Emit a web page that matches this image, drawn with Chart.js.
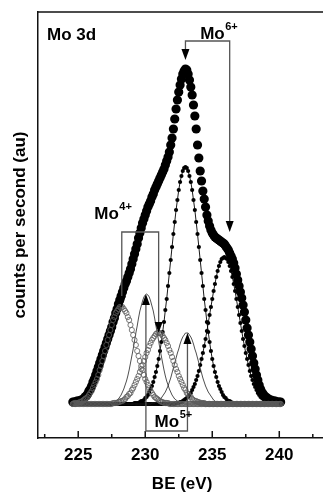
<!DOCTYPE html>
<html>
<head>
<meta charset="utf-8">
<title>Mo 3d XPS</title>
<script src="https://cdn.jsdelivr.net/npm/chart.js@4.4.1/dist/chart.umd.min.js"></script>
<style>
  html, body { margin: 0; padding: 0; background: #fff; overflow: hidden; }
  #wrap { width: 323px; height: 493px; overflow: hidden; }
</style>
</head>
<body>
<div id="wrap"><canvas id="xps" width="331" height="493"></canvas></div>
<script>
// binding energy grid (eV)
const energy = [
  224.6, 224.7, 224.8, 224.9,
  225.0, 225.1, 225.2, 225.3, 225.4, 225.5, 225.6, 225.7, 225.8, 225.9,
  226.0, 226.1, 226.2, 226.3, 226.4, 226.5, 226.6, 226.7, 226.8, 226.9,
  227.0, 227.1, 227.2, 227.3, 227.4, 227.5, 227.6, 227.7, 227.8, 227.9,
  228.0, 228.1, 228.2, 228.3, 228.4, 228.5, 228.6, 228.7, 228.8, 228.9,
  229.0, 229.1, 229.2, 229.3, 229.4, 229.5, 229.6, 229.7, 229.8, 229.9,
  230.0, 230.1, 230.2, 230.3, 230.4, 230.5, 230.6, 230.7, 230.8, 230.9,
  231.0, 231.1, 231.2, 231.3, 231.4, 231.5, 231.6, 231.7, 231.8, 231.9,
  232.0, 232.1, 232.2, 232.3, 232.4, 232.5, 232.6, 232.7, 232.8, 232.9,
  233.0, 233.1, 233.2, 233.3, 233.4, 233.5, 233.6, 233.7, 233.8, 233.9,
  234.0, 234.1, 234.2, 234.3, 234.4, 234.5, 234.6, 234.7, 234.8, 234.9,
  235.0, 235.1, 235.2, 235.3, 235.4, 235.5, 235.6, 235.7, 235.8, 235.9,
  236.0, 236.1, 236.2, 236.3, 236.4, 236.5, 236.6, 236.7, 236.8, 236.9,
  237.0, 237.1, 237.2, 237.3, 237.4, 237.5, 237.6, 237.7, 237.8, 237.9,
  238.0, 238.1, 238.2, 238.3, 238.4, 238.5, 238.6, 238.7, 238.8, 238.9,
  239.0, 239.1, 239.2, 239.3, 239.4, 239.5, 239.6, 239.7, 239.8, 239.9,
  240.0, 240.1
];

// measured envelope
const measured = [
  2, 2, 2, 3,
  3, 3, 4, 4, 5, 7, 8, 10, 13, 15,
  18, 22, 25, 29, 33, 37, 41, 45, 49, 53,
  57, 61, 65, 69, 73, 77, 82, 86, 91, 95,
  100, 104, 108, 112, 116, 120, 123, 127, 131, 135,
  140, 145, 150, 155, 160, 166, 171, 176, 181, 185,
  189, 193, 197, 200, 203, 207, 210, 214, 217, 220,
  223, 226, 229, 232, 235, 239, 243, 247, 252, 259,
  266, 275, 285, 295, 304, 312, 319, 325, 330, 333,
  335, 334, 330, 324, 317, 309, 299, 288, 275, 259,
  246, 233, 223, 213, 205, 197, 189, 183, 178, 174,
  171, 169, 167, 166, 165, 164, 163, 162, 161, 160,
  158, 156, 154, 151, 148, 145, 141, 136, 130, 124,
  118, 112, 106, 99, 92, 84, 76, 69, 62, 55,
  48, 41, 35, 29, 24, 19, 15, 12, 10, 8,
  7, 6, 5, 4, 4, 3, 3, 3, 2, 2,
  2, 2
];

// Mo6+ doublet
const mo6a = [
  0, 0, 0, 0,
  0, 0, 0, 0, 0, 0, 0, 0, 0, 0,
  0, 0, 0, 0, 0, 0, 0, 0, 0, 0,
  0, 0, 0, 0, 0, 0, 0, 0, 0, 0,
  0, 0, 0, 0, 0, 0, 0, 0, 0, 0,
  0, 0, 1, 1, 1, 1, 2, 3, 3, 4,
  6, 7, 9, 12, 15, 18, 22, 27, 32, 38,
  45, 53, 62, 72, 82, 94, 105, 118, 131, 144,
  157, 170, 182, 194, 204, 214, 222, 228, 233, 236,
  237, 236, 233, 228, 222, 214, 204, 194, 182, 170,
  157, 144, 131, 118, 105, 94, 82, 72, 62, 53,
  45, 38, 32, 27, 22, 18, 15, 12, 9, 7,
  6, 4, 3, 3, 2, 1, 1, 1, 1, 0,
  0, 0, 0, 0, 0, 0, 0, 0, 0, 0,
  0, 0, 0, 0, 0, 0, 0, 0, 0, 0,
  0, 0, 0, 0, 0, 0, 0, 0, 0, 0,
  0, 0
];
const mo6b = [
  0, 0, 0, 0,
  0, 0, 0, 0, 0, 0, 0, 0, 0, 0,
  0, 0, 0, 0, 0, 0, 0, 0, 0, 0,
  0, 0, 0, 0, 0, 0, 0, 0, 0, 0,
  0, 0, 0, 0, 0, 0, 0, 0, 0, 0,
  0, 0, 0, 0, 0, 0, 0, 0, 0, 0,
  0, 0, 0, 0, 0, 0, 0, 0, 0, 0,
  0, 0, 0, 0, 0, 0, 0, 0, 0, 0,
  0, 0, 0, 1, 1, 1, 2, 2, 3, 4,
  5, 6, 7, 9, 11, 14, 17, 20, 24, 28,
  33, 39, 45, 51, 58, 65, 73, 81, 89, 97,
  105, 113, 120, 127, 133, 138, 142, 145, 146, 147,
  146, 145, 142, 138, 133, 127, 120, 113, 105, 97,
  89, 81, 73, 65, 58, 51, 45, 39, 33, 28,
  24, 20, 17, 14, 11, 9, 7, 6, 5, 4,
  3, 2, 2, 1, 1, 1, 0, 0, 0, 0,
  0, 0
];

// Mo4+ doublet
const mo4a = [
  0, 1, 1, 1,
  1, 2, 2, 3, 4, 5, 6, 7, 9, 11,
  13, 16, 19, 22, 25, 29, 34, 38, 43, 48,
  53, 59, 64, 69, 74, 79, 84, 87, 91, 93,
  95, 97, 97, 97, 95, 93, 91, 87, 84, 79,
  74, 69, 64, 59, 53, 48, 43, 38, 34, 29,
  25, 22, 19, 16, 13, 11, 9, 7, 6, 5,
  4, 3, 2, 2, 1, 1, 1, 1, 0, 0,
  0, 0, 0, 0, 0, 0, 0, 0, 0, 0,
  0, 0, 0, 0, 0, 0, 0, 0, 0, 0,
  0, 0, 0, 0, 0, 0, 0, 0, 0, 0,
  0, 0, 0, 0, 0, 0, 0, 0, 0, 0,
  0, 0, 0, 0, 0, 0, 0, 0, 0, 0,
  0, 0, 0, 0, 0, 0, 0, 0, 0, 0,
  0, 0, 0, 0, 0, 0, 0, 0, 0, 0,
  0, 0, 0, 0, 0, 0, 0, 0, 0, 0,
  0, 0
];
const mo4b = [
  0, 0, 0, 0,
  0, 0, 0, 0, 0, 0, 0, 0, 0, 0,
  0, 0, 0, 0, 0, 0, 0, 0, 0, 0,
  0, 0, 0, 0, 0, 0, 1, 1, 1, 1,
  2, 2, 3, 3, 4, 5, 7, 8, 10, 11,
  14, 16, 19, 22, 25, 28, 32, 35, 39, 43,
  47, 51, 54, 58, 61, 64, 66, 68, 70, 71,
  71, 71, 70, 68, 66, 64, 61, 58, 54, 51,
  47, 43, 39, 35, 32, 28, 25, 22, 19, 16,
  14, 11, 10, 8, 7, 5, 4, 3, 3, 2,
  2, 1, 1, 1, 1, 0, 0, 0, 0, 0,
  0, 0, 0, 0, 0, 0, 0, 0, 0, 0,
  0, 0, 0, 0, 0, 0, 0, 0, 0, 0,
  0, 0, 0, 0, 0, 0, 0, 0, 0, 0,
  0, 0, 0, 0, 0, 0, 0, 0, 0, 0,
  0, 0, 0, 0, 0, 0, 0, 0, 0, 0,
  0, 0
];

// Mo5+ doublet
const mo5a = [
  0, 0, 0, 0,
  0, 0, 0, 0, 0, 0, 0, 0, 0, 0,
  0, 0, 0, 0, 0, 0, 0, 0, 0, 0,
  0, 0, 0, 0, 1, 1, 1, 2, 3, 4,
  5, 7, 9, 12, 15, 19, 23, 28, 34, 41,
  48, 55, 63, 71, 78, 86, 93, 98, 103, 107,
  109, 110, 109, 107, 103, 98, 93, 86, 78, 71,
  63, 55, 48, 41, 34, 28, 23, 19, 15, 12,
  9, 7, 5, 4, 3, 2, 1, 1, 1, 0,
  0, 0, 0, 0, 0, 0, 0, 0, 0, 0,
  0, 0, 0, 0, 0, 0, 0, 0, 0, 0,
  0, 0, 0, 0, 0, 0, 0, 0, 0, 0,
  0, 0, 0, 0, 0, 0, 0, 0, 0, 0,
  0, 0, 0, 0, 0, 0, 0, 0, 0, 0,
  0, 0, 0, 0, 0, 0, 0, 0, 0, 0,
  0, 0, 0, 0, 0, 0, 0, 0, 0, 0,
  0, 0
];
const mo5b = [
  0, 0, 0, 0,
  0, 0, 0, 0, 0, 0, 0, 0, 0, 0,
  0, 0, 0, 0, 0, 0, 0, 0, 0, 0,
  0, 0, 0, 0, 0, 0, 0, 0, 0, 0,
  0, 0, 0, 0, 0, 0, 0, 0, 0, 0,
  0, 0, 0, 0, 0, 0, 0, 0, 0, 0,
  0, 0, 0, 0, 0, 1, 1, 1, 2, 2,
  3, 4, 6, 8, 10, 12, 15, 18, 22, 26,
  31, 36, 41, 46, 51, 55, 60, 64, 67, 69,
  71, 71, 71, 69, 67, 64, 60, 55, 51, 46,
  41, 36, 31, 26, 22, 18, 15, 12, 10, 8,
  6, 4, 3, 2, 2, 1, 1, 1, 0, 0,
  0, 0, 0, 0, 0, 0, 0, 0, 0, 0,
  0, 0, 0, 0, 0, 0, 0, 0, 0, 0,
  0, 0, 0, 0, 0, 0, 0, 0, 0, 0,
  0, 0, 0, 0, 0, 0, 0, 0, 0, 0,
  0, 0
];

const majorTicks = [225, 230, 235, 240];
const minorTicks = [222.5, 227.5, 232.5, 237.5, 242.5];

// oxidation-state markers: arrow x (eV), arrow tips and bar level (counts)
const markers = [
  { base: 'Mo', sup: '6+', at: [233.0, 236.3], tips: [344, 172], bar: 363, text: [234.1, 365] },
  { base: 'Mo', sup: '4+', at: [228.25, 231.0], tips: [97, 71], bar: 172, text: [226.2, 185.5] },
  { base: 'Mo', sup: '5+', at: [230.05, 233.15], tips: [110, 71], bar: -27, text: [230.7, -23] }
];

const FONT = "'Liberation Sans', Arial, Helvetica, sans-serif";
Chart.defaults.font.family = FONT;
Chart.defaults.color = '#000';

const pts = arr => energy.map((e, i) => ({ x: e, y: arr[i] }));

function supLabel(ctx, x, y, base, sup) {
  ctx.font = 'bold 17px ' + FONT;
  ctx.fillText(base, x, y);
  const w = ctx.measureText(base).width;
  ctx.font = 'bold 11px ' + FONT;
  ctx.fillText(sup, x + w + 0.5, y - 9);
}

const decor = {
  id: 'decor',
  afterDatasetsDraw(chart) {
    const { ctx, chartArea: a, scales: { x, y } } = chart;
    ctx.save();

    // top frame line
    ctx.strokeStyle = '#111';
    ctx.lineWidth = 1.5;
    ctx.beginPath();
    ctx.moveTo(a.left, a.top);
    ctx.lineTo(a.right, a.top);
    ctx.stroke();

    // tick marks point into the plot
    ctx.beginPath();
    majorTicks.forEach(v => {
      const px = x.getPixelForValue(v);
      ctx.moveTo(px, a.bottom);
      ctx.lineTo(px, a.bottom - 7);
    });
    minorTicks.forEach(v => {
      const px = x.getPixelForValue(v);
      ctx.moveTo(px, a.bottom);
      ctx.lineTo(px, a.bottom - 4);
    });
    ctx.stroke();

    ctx.fillStyle = '#000';
    ctx.textAlign = 'left';
    ctx.textBaseline = 'alphabetic';
    ctx.font = 'bold 17px ' + FONT;
    ctx.fillText('Mo 3d', a.left + 9, a.top + 27.5);

    // brackets with arrows
    markers.forEach(m => {
      const X = m.at.map(v => x.getPixelForValue(v));
      const T = m.tips.map(v => y.getPixelForValue(v));
      const Y0 = y.getPixelForValue(m.bar);
      const dir = Y0 < T[0] ? 1 : -1;
      const head = 11;
      ctx.strokeStyle = '#555';
      ctx.lineWidth = 1.3;
      ctx.beginPath();
      ctx.moveTo(X[0], T[0] - dir * head);
      ctx.lineTo(X[0], Y0);
      ctx.lineTo(X[1], Y0);
      ctx.lineTo(X[1], T[1] - dir * head);
      ctx.stroke();
      ctx.fillStyle = '#000';
      X.forEach((px, i) => {
        ctx.beginPath();
        ctx.moveTo(px, T[i]);
        ctx.lineTo(px - 4, T[i] - dir * head);
        ctx.lineTo(px + 4, T[i] - dir * head);
        ctx.closePath();
        ctx.fill();
      });
      supLabel(ctx, x.getPixelForValue(m.text[0]), y.getPixelForValue(m.text[1]), m.base, m.sup);
    });

    ctx.restore();
  }
};

new Chart(document.getElementById('xps'), {
  type: 'scatter',
  data: {
    datasets: [
      { label: 'Mo4+ 3d5/2', data: pts(mo4a), showLine: false, pointRadius: 2.6,
        pointBorderWidth: 0.8, pointBorderColor: '#5a5a5a', pointBackgroundColor: 'rgba(255,255,255,0)' },
      { label: 'Mo4+ 3d3/2', data: pts(mo4b), showLine: false, pointRadius: 2.6,
        pointBorderWidth: 0.8, pointBorderColor: '#5a5a5a', pointBackgroundColor: 'rgba(255,255,255,0)' },
      { label: 'Mo5+ 3d5/2', data: pts(mo5a), showLine: true, borderColor: '#222', borderWidth: 0.8, pointRadius: 0 },
      { label: 'Mo5+ 3d3/2', data: pts(mo5b), showLine: true, borderColor: '#222', borderWidth: 0.8, pointRadius: 0 },
      { label: 'Mo6+ 3d5/2', data: pts(mo6a), showLine: true, borderColor: '#000', borderWidth: 0.9,
        pointRadius: 2.1, pointBorderWidth: 0, pointBackgroundColor: '#000' },
      { label: 'Mo6+ 3d3/2', data: pts(mo6b), showLine: true, borderColor: '#000', borderWidth: 0.9,
        pointRadius: 2.1, pointBorderWidth: 0, pointBackgroundColor: '#000' },
      { label: 'measured', data: pts(measured), showLine: false,
        pointRadius: 4.6, pointBorderWidth: 0, pointBackgroundColor: '#000' }
    ]
  },
  options: {
    responsive: false,
    animation: false,
    devicePixelRatio: 1,
    layout: { padding: { top: 12, right: 0, bottom: 0, left: 0 } },
    plugins: { legend: { display: false }, tooltip: { enabled: false } },
    scales: {
      x: {
        type: 'linear',
        min: 222,
        max: 243.5,
        afterFit: s => { s.height = 55; },
        afterBuildTicks: s => {
          s.ticks = minorTicks.concat(majorTicks).sort((a, b) => a - b).map(v => ({ value: v }));
        },
        grid: { display: false, drawTicks: false },
        border: { display: true, color: '#111', width: 1.5 },
        ticks: {
          autoSkip: false,
          maxRotation: 0,
          padding: 7,
          font: { size: 17, weight: 'bold' },
          callback: v => majorTicks.includes(v) ? String(v) : ''
        },
        title: {
          display: true,
          text: 'BE (eV)',
          font: { size: 17, weight: 'bold', lineHeight: 1 },
          padding: { top: 0, bottom: 0.5 }
        }
      },
      y: {
        min: -34,
        max: 392,
        afterFit: s => { s.width = 38; },
        grid: { display: false, drawTicks: false },
        border: { display: true, color: '#111', width: 1.5 },
        ticks: { display: false },
        title: {
          display: true,
          text: 'counts per second (au)',
          font: { size: 17, weight: 'bold', lineHeight: 1 },
          padding: { top: 12, bottom: 0 }
        }
      }
    }
  },
  plugins: [decor]
});
</script>
</body>
</html>
